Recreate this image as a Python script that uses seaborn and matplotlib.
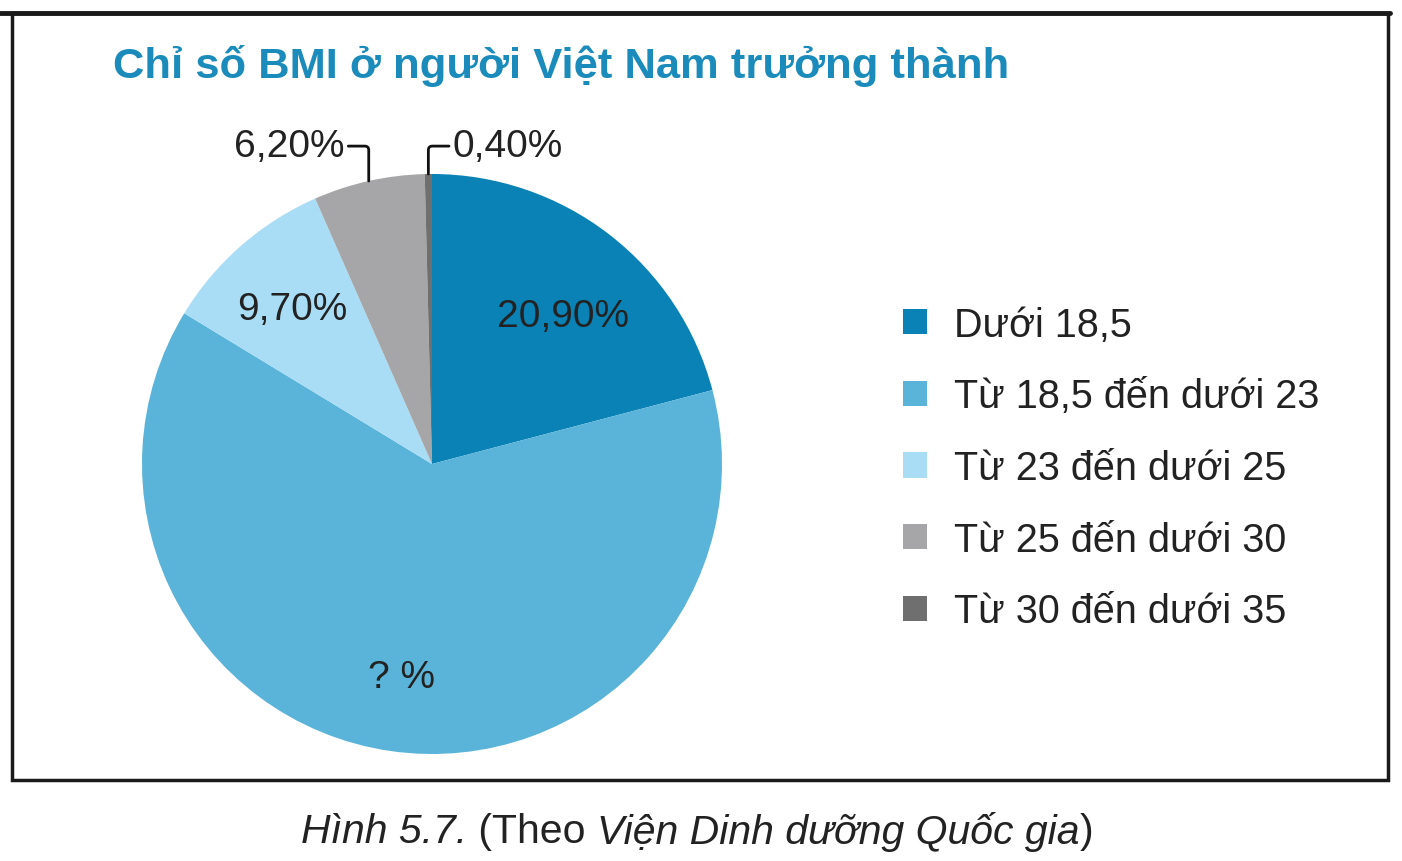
import numpy as np
import seaborn as sns
import matplotlib.pyplot as plt
from matplotlib.patches import Patch, Rectangle
from matplotlib.lines import Line2D

"""
BMI PIE CHART
"""

categories = ["Dưới 18,5", "Từ 18,5 đến dưới 23", "Từ 23 đến dưới 25",
              "Từ 25 đến dưới 30", "Từ 30 đến dưới 35"]
values = [20.9, 62.8, 9.7, 6.2, 0.4]
labels = ["20,90%", "? %", "9,70%", "6,20%", "0,40%"]
colors = ["#0a82b5", "#5ab4d9", "#a9ddf5", "#a6a6a8", "#6f6f70"]

sns.set_theme(style="white")
plt.rcParams["font.family"] = ["Liberation Sans", "DejaVu Sans"]

fig = plt.figure(figsize=(14.02, 8.62), dpi=100)
ax = fig.add_axes([142 / 1402, 1 - 755 / 862, 580 / 1402, 580 / 862])

wedges, _ = ax.pie(values, colors=colors, startangle=90, counterclock=False,
                   wedgeprops=dict(linewidth=0))
ax.set_xlim(-1, 1)
ax.set_ylim(-1, 1)
ax.set_aspect("equal")

# labels inside the bigger wedges, leader lines for the two small ones
for i, w in enumerate(wedges):
    mid = np.deg2rad((w.theta1 + w.theta2) / 2)
    if values[i] > 9:
        r = 0.66 if i == 0 else 0.73
        dx = 0.05 if i == 0 else 0
        ax.text(r * np.cos(mid) + dx, r * np.sin(mid), labels[i], fontsize=28,
                color="#222222", ha="center", va="center_baseline")
    else:
        x0, y0 = np.cos(mid), np.sin(mid)
        if np.cos(mid) < -0.1:
            tx, ha = -0.30, "right"
        else:
            tx, ha = 0.07, "left"
        ax.annotate(labels[i], xy=(x0, y0), xytext=(tx, 1.11), fontsize=28,
                    color="#222222", ha=ha, va="center_baseline",
                    annotation_clip=False,
                    arrowprops=dict(arrowstyle="-", color="#111111", lw=2,
                                    shrinkA=0, shrinkB=0,
                                    connectionstyle="angle,angleA=0,angleB=90,rad=4"))

fig.text(113 / 1402, 1 - 66 / 862, "Chỉ số BMI ở người Việt Nam trưởng thành",
         fontsize=31.3, fontweight="bold", color="#1a8bba", ha="left", va="center")

handles = [Patch(facecolor=c, edgecolor="none") for c in colors]
fig.legend(handles, categories, loc="center left",
           bbox_to_anchor=(903 / 1402, 1 - 469 / 862), frameon=False,
           fontsize=28.5, handlelength=0.6, handleheight=0.6, handletextpad=0.7,
           labelspacing=0.85, borderpad=0, borderaxespad=0, labelcolor="#222222")

# frame
fig.patches.append(Rectangle((12 / 1402, 1 - 781 / 862), 1376 / 1402, 767 / 862,
                             transform=fig.transFigure, fill=False,
                             edgecolor="#1a1a1a", linewidth=2.5))
fig.lines.append(Line2D([0, 1390 / 1402], [1 - 14 / 862, 1 - 14 / 862],
                        transform=fig.transFigure, color="#1a1a1a", linewidth=3.5))

# caption with italic parts
pieces = [("Hình 5.7.", "italic"), (" (Theo ", "normal"),
          ("Viện Dinh dưỡng Quốc gia", "italic"), (")", "normal")]
renderer = fig.canvas.get_renderer()
texts = []
for s, st in pieces:
    t = fig.text(0, 1 - 832 / 862, s, fontsize=29.5, fontstyle=st,
                 color="#222222", ha="left", va="center")
    texts.append(t)
widths = [t.get_window_extent(renderer).width for t in texts]
x = 697 - sum(widths) / 2
for t, w in zip(texts, widths):
    t.set_x(x / 1402)
    x += w

fig.savefig("out.png", dpi=100, facecolor="white")
